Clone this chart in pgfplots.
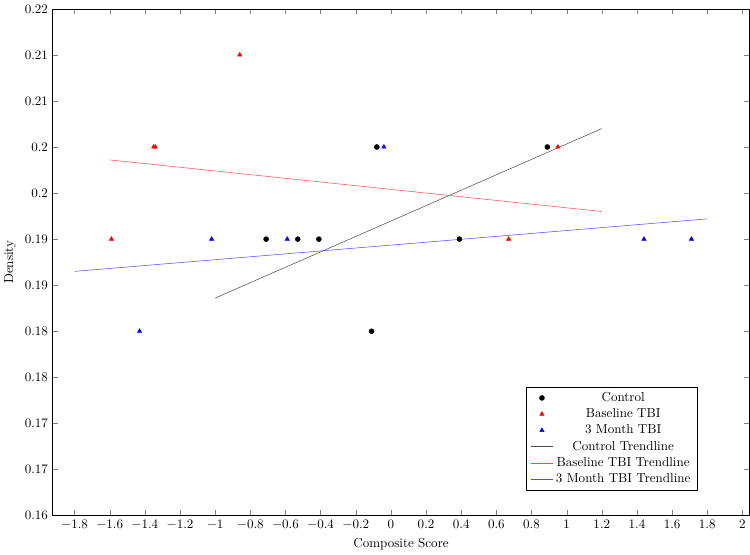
\documentclass[border=0pt]{standalone}
\usepackage{pgfplots}
\pgfplotsset{compat=1.18}

\begin{document}
\begin{tikzpicture}
\begin{axis}[
    scale only axis,
    width=535pt,
    height=389pt,
    xmin=-1.925, xmax=2.04,
    ymin=0.16, ymax=0.215,
    xtick={-1.8,-1.6,-1.4,-1.2,-1,-0.8,-0.6,-0.4,-0.2,0,0.2,0.4,0.6,0.8,1,1.2,1.4,1.6,1.8,2},
    ytick={0.16,0.165,0.17,0.175,0.18,0.185,0.19,0.195,0.2,0.205,0.21,0.215},
    yticklabels={0.16,0.17,0.17,0.18,0.18,0.19,0.19,0.2,0.2,0.21,0.21,0.22},
    xlabel={Composite Score},
    ylabel={Density},
    legend style={at={(0.925,0.05)}, anchor=south east, cells={anchor=center}},
]

% Control
\addplot[only marks, mark=*, black, mark size=1.9pt] coordinates {
    (-0.71,0.19) (-0.53,0.19) (-0.41,0.19) (0.39,0.19)
    (-0.08,0.2) (0.89,0.2) (-0.11,0.18)
};

% Baseline TBI
\addplot[only marks, mark=triangle*, red, mark size=1.9pt] coordinates {
    (-0.86,0.21) (-1.35,0.2) (-1.34,0.2) (0.95,0.2)
    (-1.59,0.19) (0.67,0.19)
};

% 3 Month TBI
\addplot[only marks, mark=triangle*, blue, mark size=1.9pt] coordinates {
    (-0.04,0.2) (-1.02,0.19) (-0.59,0.19) (1.44,0.19)
    (1.71,0.19) (-1.43,0.18)
};

% trendlines
\addplot[black!70, no marks] coordinates {(-1,0.1836) (1.2,0.2020)};
\addplot[red!70, no marks] coordinates {(-1.6,0.1986) (1.2,0.1930)};
\addplot[blue!70, no marks] coordinates {(-1.8,0.1865) (1.8,0.1922)};

\legend{Control, Baseline TBI, 3 Month TBI, Control Trendline, Baseline TBI Trendline, 3 Month TBI Trendline}
\end{axis}
\end{tikzpicture}
\end{document}
